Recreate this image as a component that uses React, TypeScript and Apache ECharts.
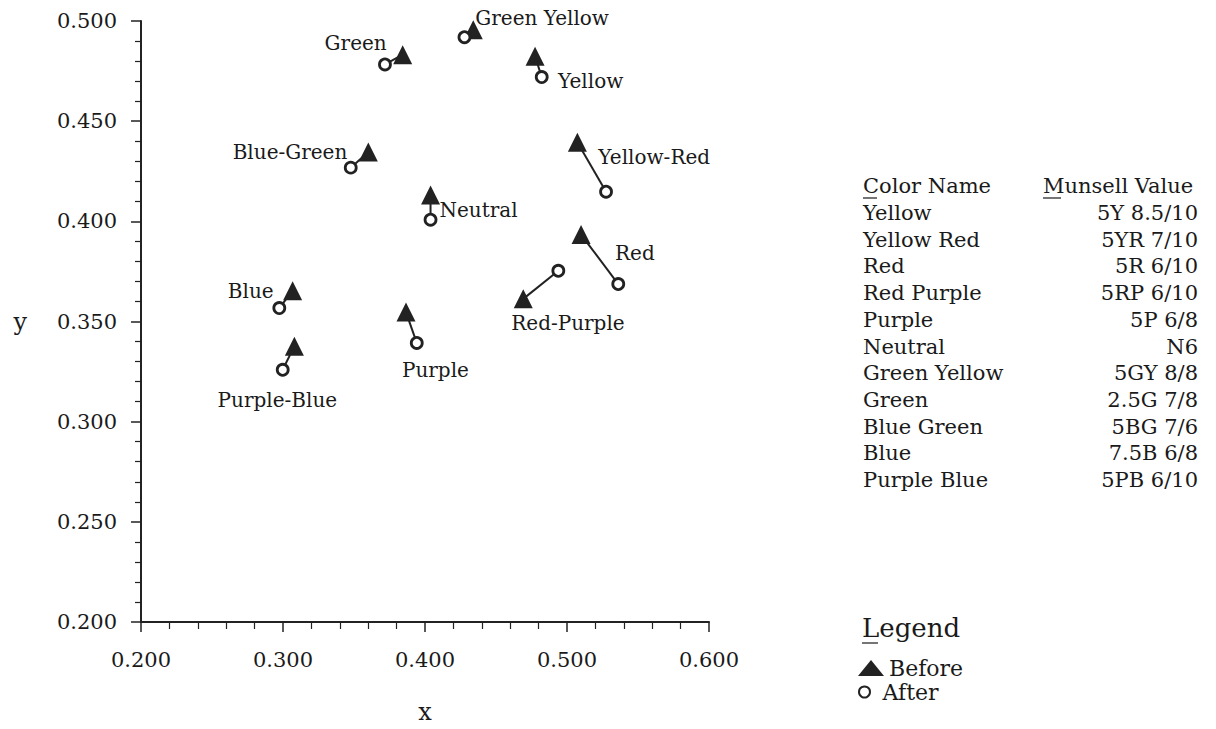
import { useEffect, useRef } from "react";
import * as echarts from "echarts";

// Chromaticity shift of Munsell samples, before and after.
const colorLabels = [
  "Yellow",
  "Yellow-Red",
  "Red",
  "Red-Purple",
  "Purple",
  "Neutral",
  "Green Yellow",
  "Green",
  "Blue-Green",
  "Blue",
  "Purple-Blue",
];
const beforeX = [0.4775, 0.5073, 0.5099, 0.4692, 0.3866, 0.4039, 0.434, 0.3843, 0.3601, 0.3068, 0.308];
const beforeY = [0.4824, 0.4395, 0.3934, 0.3613, 0.3547, 0.4131, 0.4956, 0.4832, 0.4346, 0.3654, 0.3377];
const afterX = [0.4822, 0.5275, 0.5361, 0.4939, 0.3942, 0.4039, 0.4278, 0.3718, 0.3477, 0.2974, 0.2998];
const afterY = [0.472, 0.4148, 0.3687, 0.3753, 0.3393, 0.4008, 0.4919, 0.4783, 0.4268, 0.3567, 0.3259];

// Reference table of sample names and notations.
const tableNames = [
  "Yellow",
  "Yellow Red",
  "Red",
  "Red Purple",
  "Purple",
  "Neutral",
  "Green Yellow",
  "Green",
  "Blue Green",
  "Blue",
  "Purple Blue",
];
const munsellValues = [
  "5Y 8.5/10",
  "5YR 7/10",
  "5R 6/10",
  "5RP 6/10",
  "5P 6/8",
  "N6",
  "5GY 8/8",
  "2.5G 7/8",
  "5BG 7/6",
  "7.5B 6/8",
  "5PB 6/10",
];

// Where each name sits relative to its "before" marker.
const labelPlacement: Record<string, { align: string; dx: number; dy: number }> = {
  Yellow: { align: "left", dx: 23, dy: 25 },
  "Yellow-Red": { align: "left", dx: 21, dy: 15 },
  Red: { align: "left", dx: 34, dy: 18 },
  "Red-Purple": { align: "left", dx: -12, dy: 24 },
  Purple: { align: "left", dx: -4, dy: 58 },
  Neutral: { align: "left", dx: 9, dy: 15 },
  "Green Yellow": { align: "left", dx: 2, dy: -12 },
  Green: { align: "right", dx: -16, dy: -12 },
  "Blue-Green": { align: "right", dx: -21, dy: 0 },
  Blue: { align: "right", dx: -19, dy: 0 },
  "Purple-Blue": { align: "center", dx: -17, dy: 54 },
};

const SERIF = '"DejaVu Serif", "Liberation Serif", serif';
const INK = "#1a1a1a";
const MARK = "#222222";

export default function App() {
  const ref = useRef<HTMLDivElement>(null);

  useEffect(() => {
    if (!ref.current) return;
    const chart = echarts.init(ref.current, undefined, { renderer: "svg" });

    const connectors = colorLabels.map((name, i) => ({
      type: "line",
      name: "shift-" + name,
      data: [
        [beforeX[i], beforeY[i]],
        [afterX[i], afterY[i]],
      ],
      showSymbol: false,
      symbol: "none",
      silent: true,
      z: 1,
      lineStyle: { color: MARK, width: 2, opacity: 1 },
    }));

    const beforeData = colorLabels.map((name, i) => {
      const p = labelPlacement[name];
      return {
        name,
        value: [beforeX[i], beforeY[i]],
        label: {
          show: true,
          formatter: name,
          position: "inside",
          align: p.align,
          verticalAlign: "middle",
          offset: [p.dx, p.dy],
        },
      };
    });

    const afterData = colorLabels.map((name, i) => ({
      name,
      value: [afterX[i], afterY[i]],
    }));

    const rowTop = 213;
    const rowStep = 26.7;
    const tableGraphics: any[] = [
      {
        type: "text",
        x: 863,
        y: 186,
        style: { text: "Color Name", font: `21px ${SERIF}`, fill: INK, textVerticalAlign: "middle" },
      },
      {
        type: "text",
        x: 1043,
        y: 186,
        style: { text: "Munsell Value", font: `21px ${SERIF}`, fill: INK, textVerticalAlign: "middle" },
      },
      {
        type: "line",
        shape: { x1: 863, y1: 198, x2: 877, y2: 198 },
        style: { stroke: INK, lineWidth: 1.2 },
      },
      {
        type: "line",
        shape: { x1: 1043, y1: 198, x2: 1061, y2: 198 },
        style: { stroke: INK, lineWidth: 1.2 },
      },
    ];
    tableNames.forEach((n, i) => {
      const y = rowTop + rowStep * i;
      tableGraphics.push({
        type: "text",
        x: 863,
        y,
        style: { text: n, font: `21px ${SERIF}`, fill: INK, textAlign: "left", textVerticalAlign: "middle" },
      });
      tableGraphics.push({
        type: "text",
        x: 1198,
        y,
        style: {
          text: munsellValues[i],
          font: `21px ${SERIF}`,
          fill: INK,
          textAlign: "right",
          textVerticalAlign: "middle",
        },
      });
    });

    const legendGraphics: any[] = [
      {
        type: "text",
        x: 862,
        y: 628,
        style: { text: "Legend", font: `26px ${SERIF}`, fill: INK, textVerticalAlign: "middle" },
      },
      {
        type: "line",
        shape: { x1: 862, y1: 643, x2: 878, y2: 643 },
        style: { stroke: INK, lineWidth: 1.2 },
      },
    ];

    const legendText = { color: INK, fontFamily: SERIF, fontSize: 22 };

    chart.setOption({
      animation: false,
      backgroundColor: "#ffffff",
      grid: { left: 141, top: 21, width: 568, height: 607, containLabel: false },
      xAxis: {
        type: "value",
        min: 0.2,
        max: 0.6,
        interval: 0.1,
        name: "x",
        nameLocation: "middle",
        nameGap: 78,
        nameTextStyle: { color: INK, fontFamily: SERIF, fontSize: 24 },
        axisLine: { show: true, onZero: false, lineStyle: { color: MARK, width: 2 } },
        axisTick: { show: true, inside: false, length: 10, lineStyle: { color: MARK, width: 1.5 } },
        minorTick: { show: true, splitNumber: 5, length: 7, lineStyle: { color: MARK, width: 1.2 } },
        splitLine: { show: false },
        minorSplitLine: { show: false },
        axisLabel: {
          margin: 27,
          color: INK,
          fontFamily: SERIF,
          fontSize: 21,
          formatter: (v: number) => v.toFixed(3),
        },
      },
      yAxis: {
        type: "value",
        min: 0.2,
        max: 0.5,
        interval: 0.05,
        name: "y",
        nameLocation: "middle",
        nameRotate: 0,
        nameGap: 114,
        nameTextStyle: { color: INK, fontFamily: SERIF, fontSize: 24, padding: [24, 0, 0, 0] },
        axisLine: { show: true, onZero: false, lineStyle: { color: MARK, width: 2 } },
        axisTick: { show: true, inside: false, length: 10, lineStyle: { color: MARK, width: 1.5 } },
        minorTick: { show: true, splitNumber: 5, length: 6, lineStyle: { color: MARK, width: 1.2 } },
        splitLine: { show: false },
        minorSplitLine: { show: false },
        axisLabel: {
          margin: 24,
          color: INK,
          fontFamily: SERIF,
          fontSize: 21,
          formatter: (v: number) => v.toFixed(3),
        },
      },
      legend: [
        {
          data: [{ name: "Before", icon: "triangle" }],
          left: 853,
          top: 652,
          itemWidth: 26,
          itemHeight: 16,
          textStyle: legendText,
          selectedMode: false,
        },
        {
          data: [{ name: "After", icon: "circle" }],
          left: 853,
          top: 676,
          itemWidth: 26,
          itemHeight: 11,
          textStyle: legendText,
          selectedMode: false,
        },
      ],
      graphic: [...tableGraphics, ...legendGraphics],
      series: [
        ...connectors,
        {
          type: "scatter",
          name: "Before",
          symbol: "triangle",
          symbolSize: 19,
          z: 3,
          itemStyle: { color: MARK, opacity: 1 },
          label: { color: INK, fontFamily: SERIF, fontSize: 20, opacity: 1 },
          data: beforeData,
        },
        {
          type: "scatter",
          name: "After",
          symbol: "circle",
          symbolSize: 11,
          z: 4,
          itemStyle: { color: "#ffffff", borderColor: MARK, borderWidth: 2.8, opacity: 1 },
          data: afterData,
        },
      ],
    });

    return () => chart.dispose();
  }, []);

  return (
    <div
      ref={ref}
      style={{ position: "fixed", left: 0, top: 0, width: 1216, height: 729, background: "#fff" }}
    />
  );
}
